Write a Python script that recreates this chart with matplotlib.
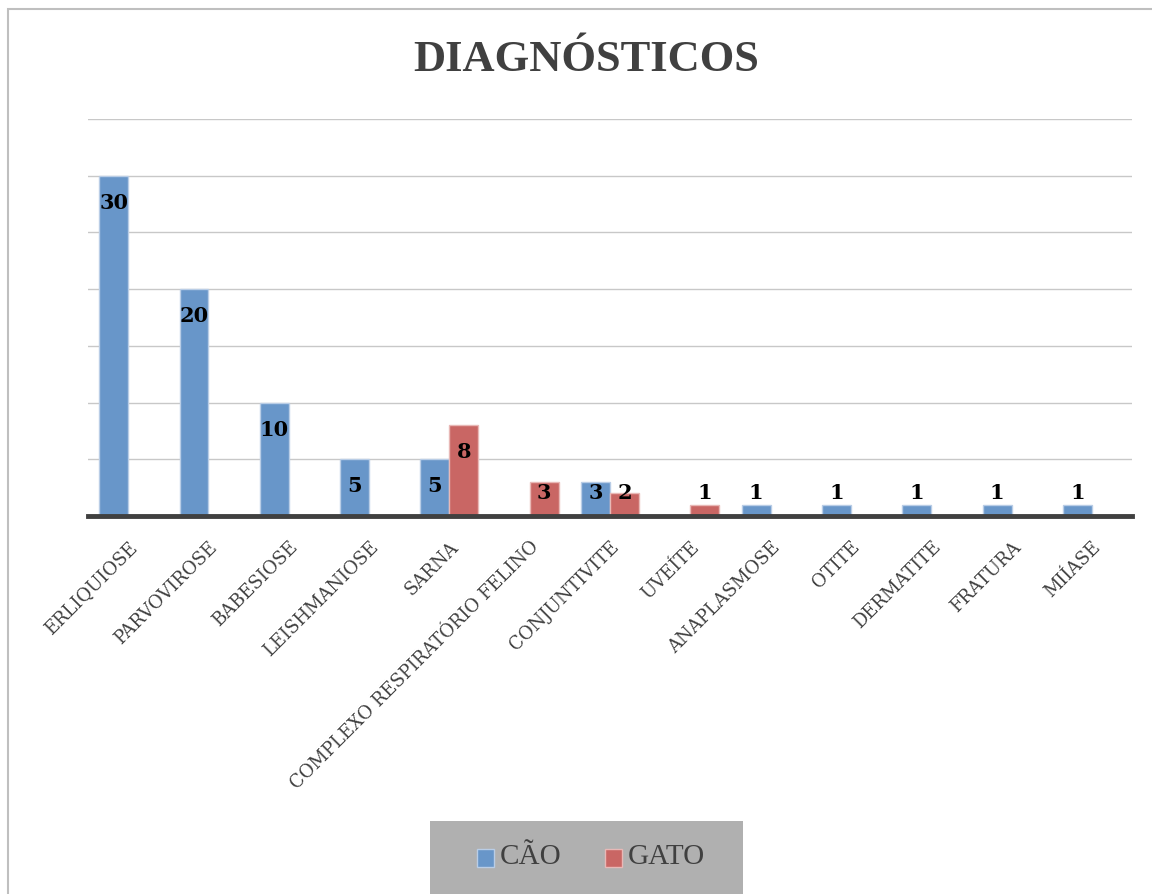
import numpy as np
import matplotlib.pyplot as plt
from matplotlib.patches import Rectangle

categorias = ['ERLIQUIOSE', 'PARVOVIROSE', 'BABESIOSE', 'LEISHMANIOSE', 'SARNA',
              'COMPLEXO RESPIRATÓRIO FELINO', 'CONJUNTIVITE', 'UVEÍTE', 'ANAPLASMOSE',
              'OTITE', 'DERMATITE', 'FRATURA', 'MIÍASE']
cao = [30, 20, 10, 5, 5, 0, 3, 0, 1, 1, 1, 1, 1]
gato = [0, 0, 0, 0, 8, 3, 2, 1, 0, 0, 0, 0, 0]

azul = '#6896C9'
vermelho = '#C96664'
cinza = '#404040'

plt.rcParams['font.family'] = ['DejaVu Serif', 'Liberation Serif']

fig = plt.figure(figsize=(11.52, 8.95), dpi=100)
ax = fig.add_axes([0.0764, 0.4223, 0.9062, 0.4436])

x = np.arange(len(categorias))
w = 0.36

# bars: dog to the left of the tick, cat to the right
for vals, cor, borda, lado in [(cao, azul, '#B9CDE6', -1), (gato, vermelho, '#E8B8B6', 1)]:
    for xi, v in zip(x, vals):
        if v == 0:
            continue
        ax.bar(xi + lado * w / 2, v, width=w, color=cor, edgecolor=borda, linewidth=1, zorder=3)
        ax.text(xi + lado * w / 2, max(v - 2.3, 2.1), str(v), ha='center', va='center',
                fontsize=15, fontweight='bold', color='black', zorder=4)

ax.set_xlim(-0.5, len(categorias) - 0.5)
ax.set_ylim(0, 35)
ax.set_yticks(np.arange(0, 36, 5))
ax.yaxis.grid(True, color='#C8C8C8', linewidth=1, zorder=0)
ax.tick_params(axis='y', left=False, labelleft=False)
ax.axhline(0, color=cinza, linewidth=3.5, zorder=5, clip_on=False)
for s in ax.spines.values():
    s.set_visible(False)

ax.set_xticks(x)
ax.set_xticklabels(categorias, rotation=45, ha='right', rotation_mode='anchor',
                   fontsize=13, color=cinza)
ax.tick_params(axis='x', length=0, pad=15)

fig.text(0.509, 0.933, 'DIAGNÓSTICOS', ha='center', va='center', fontsize=32,
         fontweight='bold', color=cinza, family='Liberation Serif')

# outer frame and legend box
fig.patches.append(Rectangle((8 / 1152, -0.1), 1.2, 1 - 10 / 895 + 0.1, transform=fig.transFigure,
                             fill=False, edgecolor='#BFBFBF', linewidth=1.5))
fig.patches.append(Rectangle((430 / 1152, 0), 313 / 1152, 73 / 895, transform=fig.transFigure,
                             facecolor='#B0B0B0', edgecolor='none'))

for cx, cor, borda, txt in [(477, azul, '#B9CDE6', 'CÃO'), (605, vermelho, '#E8B8B6', 'GATO')]:
    fig.patches.append(Rectangle((cx / 1152, (895 - 868) / 895), 17 / 1152, 18 / 895,
                                 transform=fig.transFigure, facecolor=cor, edgecolor=borda, linewidth=1))
    fig.text((cx + 23) / 1152, (895 - 857) / 895, txt, ha='left', va='center', fontsize=21,
             color=cinza, family='Liberation Serif')

fig.savefig('out.png', dpi=100)
